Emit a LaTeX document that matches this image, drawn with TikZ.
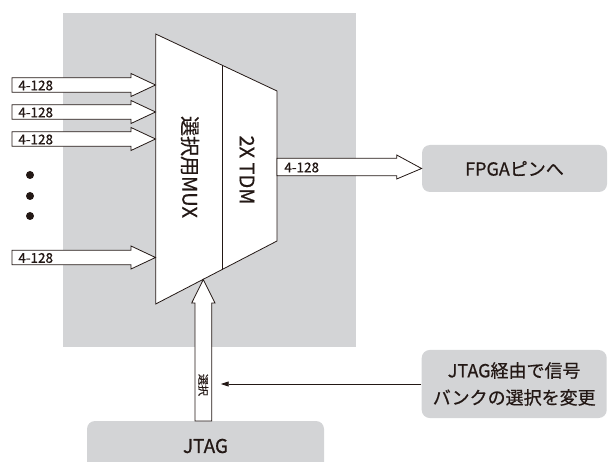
\documentclass[tikz,border=0pt]{standalone}
\usepackage{fontspec}
\setmainfont{Noto Sans CJK JP}[FakeBold=0.6]
\usetikzlibrary{arrows.meta,positioning,calc}
\definecolor{panelgray}{RGB}{211,212,214}
\definecolor{ink}{RGB}{35,24,21}

\newcommand{\inbus}[2]{%
  \draw[fat] (12,#1-7.3) -- (131,#1-7.3) -- (131,#1-11.5) -- (155.5,#1)
    -- (131,#1+11.5) -- (131,#1+7.3) -- (12,#1+7.3) -- cycle;
  \node[bus] (#2) at (18,#1+0.5) {4-128};}

\begin{document}
\begin{tikzpicture}[x=1pt, y=-1pt, >=Stealth, line width=0.8pt,
      fat/.style={draw=ink, fill=white, line join=miter},
      bus/.style={font=\fontsize{13.5}{15}\selectfont, text=ink, inner sep=0pt, anchor=west},
      gbox/.style={fill=panelgray, rounded corners=8pt, align=center, text=ink, inner sep=0pt},
      vlabel/.style={rotate=-90, text=ink, inner sep=0pt, font=\fontsize{20}{22}\selectfont}]
      \clip (0,0) rectangle (608,462);
      \fill[panelgray] (63.3,12.7) rectangle (356,347);
      \coordinate (tl) at (155.7,34);   \coordinate (tr) at (277,91);
      \coordinate (br) at (277,241);    \coordinate (bl) at (155.7,304);
      \draw[fat] (tl) -- (tr) -- (br) -- (bl) -- cycle;
      \draw[ink] (222,65.2) -- (222,269.6);
      \node[vlabel] (mux) at (190,167) {選択用MUX};
      \node[vlabel] (tdm) at (247,170) {2X TDM};
      \inbus{85}{in1}
      \inbus{112}{in2}
      \inbus{139}{in3}
      \inbus{257.5}{in4}
      \foreach \y in {175,196,216} \fill[ink] (30,\y) circle (4);
      \node[gbox, minimum width=185, minimum height=47, font=\fontsize{18}{22}\selectfont] (fpga) at (514.5,168.5) {FPGAピンへ};
      \draw[fat] (277,158.3) -- (396.7,158.3) -- (396.7,155) -- (fpga.west)
        -- (396.7,179) -- (396.7,175.7) -- (277,175.7) -- cycle;
      \node[bus] (out) at (284,167.5) {4-128};
      \node[gbox, minimum width=237, minimum height=50, font=\fontsize{19}{22}\selectfont] (jtag) at (205.5,446) {JTAG};
      \draw[fat] (195,421) -- (195,303) -- (191.7,303) -- (203.3,279.5) -- (215,303)
        -- (211.7,303) -- (211.7,421) -- cycle;
      \node[rotate=-90, inner sep=0pt, text=ink, font=\fontsize{11}{12}\selectfont] (sel) at (203.3,385) {選択};
      \node[gbox, minimum width=185, minimum height=68, font=\fontsize{18}{27}\selectfont] (note) at (514.2,384) {JTAG経由で信号\\バンクの選択を変更};
      \coordinate (selin) at (220.7,384);
      \draw[ink, -{Triangle[length=8pt,width=5pt]}] (note.west) -- (selin);
    \end{tikzpicture}
\end{document}
